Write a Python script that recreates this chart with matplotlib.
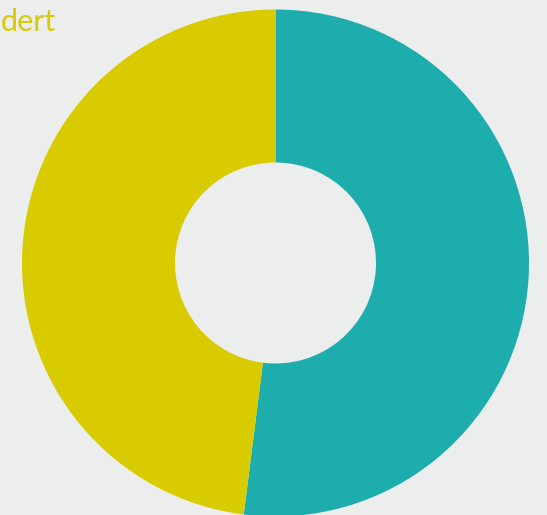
import matplotlib.pyplot as plt

labels = ["Teal", "dert"]
values = [52, 48]
colors = ["#1eadad", "#d8cb00"]
bg = "#eceded"

fig = plt.figure(figsize=(5.47, 5.15), dpi=100, facecolor=bg)
ax = fig.add_axes([0, 0, 1, 1])
ax.set_facecolor(bg)

ax.pie(values, colors=colors, startangle=90, counterclock=False,
       center=(275.5, 252), radius=253.5, frame=True,
       wedgeprops=dict(width=253.5 - 100.5, linewidth=0))
ax.set_xlim(0, 547)
ax.set_ylim(0, 515)
ax.set_aspect("equal")
ax.axis("off")

fig.text(0.001, 0.94, labels[1], color=colors[1], fontsize=22,
         family=["Lato", "DejaVu Sans"], va="baseline", ha="left")

fig.savefig("out.png", dpi=100, facecolor=bg)
